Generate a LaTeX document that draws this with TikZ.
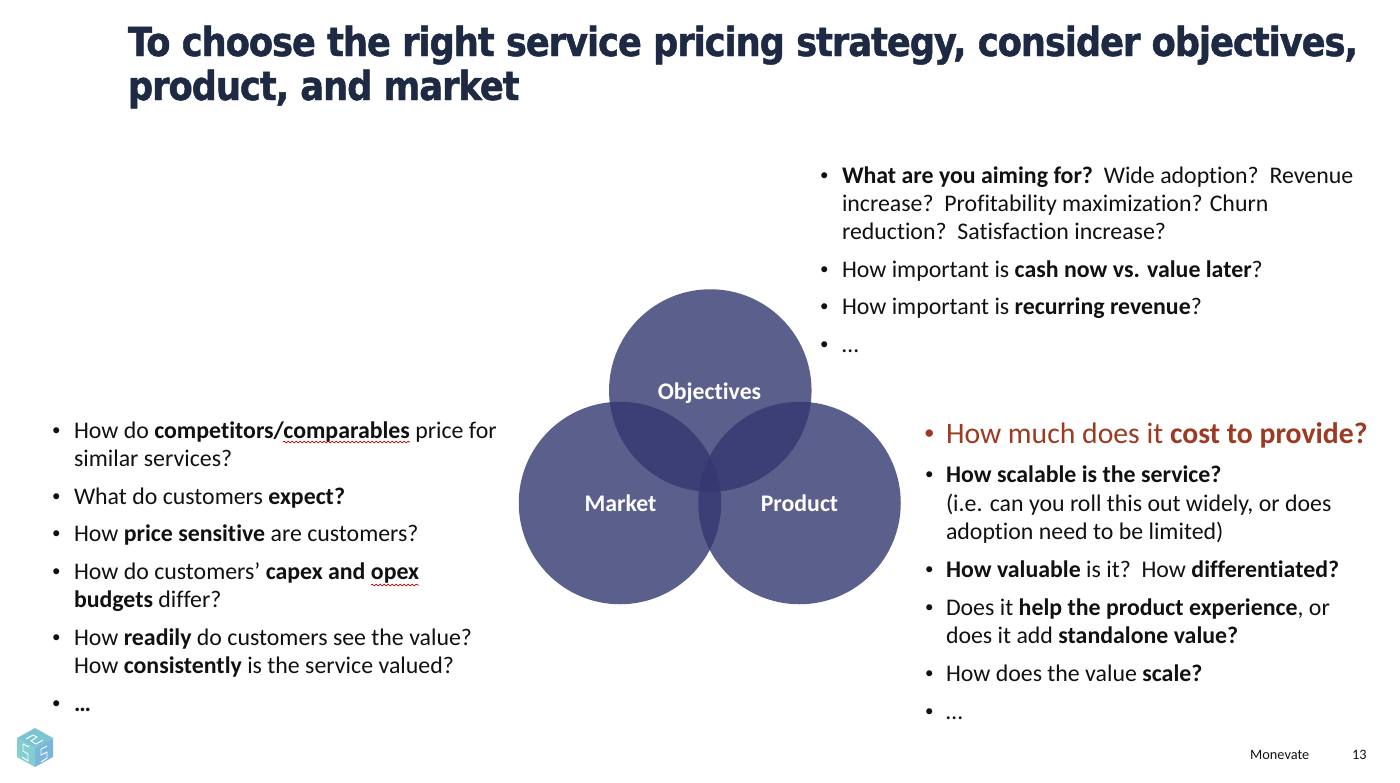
\documentclass[tikz,border=0pt]{standalone}
\usepackage{fontspec}
\setmainfont[Ligatures=NoCommon]{Carlito}
\newfontfamily\titlefont[BoldFeatures={FakeStretch=0.88,FakeBold=1.2,LetterSpace=-2.5}]{DejaVu Sans}
\usetikzlibrary{decorations.pathmorphing}
\definecolor{titleC}{HTML}{1E2A44}
\definecolor{vennC}{HTML}{333870}
\definecolor{redC}{HTML}{9C3A22}
\definecolor{textC}{HTML}{111111}
\definecolor{cubeT}{HTML}{7CC4D0}
\definecolor{cubeL}{HTML}{84CDD0}
\definecolor{cubeR}{HTML}{7AB6DC}
\tikzset{
  x=1pt,y=-1pt,
  tl/.style={anchor=base west,inner sep=0pt,outer sep=0pt,text=textC,font=\fontsize{23.85}{28}\selectfont},
  bl/.style={anchor=base west,inner sep=0pt,outer sep=0pt,text=textC,font=\fontsize{17}{20}\selectfont},
  ttl/.style={anchor=base west,inner sep=0pt,outer sep=0pt,text=titleC,font=\titlefont\bfseries\fontsize{40}{44}\selectfont},
  venn/.style={circle,minimum size=202.5pt,inner sep=0pt,outer sep=0pt,fill=vennC,fill opacity=.8},
  vl/.style={inner sep=0pt,text=white,font=\bfseries\fontsize{23.8}{26}\selectfont},
  squig/.style={draw=red!75!black,line width=.7pt,decorate,decoration={snake,amplitude=.8pt,segment length=4pt}},
  foot/.style={anchor=base west,inner sep=0pt,text=textC,font=\fontsize{14.3}{16}\selectfont},
  cubeline/.style={white,line width=.9pt},
}
\newcommand{\tline}[4]{\node[tl] (#1) at (#2,#3+1) {#4};}
\newcommand{\bul}[3]{\node[bl] (#1) at (#2,#3-2) {•};}
\begin{document}
\begin{tikzpicture}
\useasboundingbox (0,0) rectangle (1400,782);
\fill[white] (0,0) rectangle (1400,782);
% title
\node[ttl] (t1) at (128,56) {To choose the right service pricing strategy, consider objectives,};
\node[ttl] (t2) at (128,100) {product, and market};
% venn
\node[venn] (obj) at (710.3,390.5) {};
\node[venn] (mkt) at (620,503) {};
\node[venn] (prd) at (799.5,503) {};
\node[vl,anchor=base] (objl) at (709.5,399) {Objectives};
\node[vl,anchor=base] (mktl) at (620.5,511) {Market};
\node[vl,anchor=base] (prdl) at (799.5,511) {Product};
% top right
\bul{b1}{820}{182}\tline{a1}{842}{182}{\textbf{What are you aiming for?}\ \ Wide adoption?\ \ Revenue}
\tline{a2}{842}{210}{increase?\ \ Profitability maximization? Churn}
\tline{a3}{842}{238}{reduction?\ \ Satisfaction increase?}
\bul{b2}{820}{276}\tline{a4}{842}{276}{How important is \textbf{cash now vs. value later}?}
\bul{b3}{820}{313}\tline{a5}{842}{313}{How important is \textbf{recurring revenue}?}
\bul{b4}{820}{351}\tline{a6}{842}{351}{…}
% left
\bul{c1}{52}{437}\tline{l1}{74}{437}{How do \textbf{competitors/comparables} price for}
\tline{l2}{74}{465}{similar services?}
\bul{c2}{52}{503}\tline{l3}{74}{503}{What do customers \textbf{expect?}}
\bul{c3}{52}{540}\tline{l4}{74}{540}{How \textbf{price sensitive} are customers?}
\bul{c4}{52}{578}\tline{l5}{74}{578}{How do customers’ \textbf{capex and opex}}
\tline{l6}{74}{606}{\textbf{budgets} differ?}
\bul{c5}{52}{644}\tline{l7}{74}{644}{How \textbf{readily} do customers see the value?}
\tline{l8}{74}{672}{How \textbf{consistently} is the service valued?}
\bul{c6}{52}{710}\tline{l9}{74}{710}{\textbf{…}}
\coordinate (s1a) at (283,442); \coordinate (s1b) at (410,442);
\coordinate (s2a) at (371,585); \coordinate (s2b) at (419,585);
\draw[squig] (s1a) -- (s1b);
\draw[squig] (s2a) -- (s2b);
% right
\node[bl,text=redC,font=\fontsize{21}{24}\selectfont] (d0) at (924,439) {•};
\node[tl,text=redC,font=\fontsize{29.7}{30}\selectfont] (r0) at (946,443) {How much does it \textbf{cost to provide?}};
\bul{d1}{925}{481}\tline{r1}{946}{481}{\textbf{How scalable is the service?}}
\tline{r2}{946}{510}{(i.e. can you roll this out widely, or does}
\tline{r3}{946}{538}{adoption need to be limited)}
\bul{d2}{925}{576}\tline{r4}{946}{576}{\textbf{How valuable} is it?\ \ How \textbf{differentiated?}}
\bul{d3}{925}{614}\tline{r5}{946}{614}{Does it \textbf{help the product experience}, or}
\tline{r6}{946}{642}{does it add \textbf{standalone value?}}
\bul{d4}{925}{680}\tline{r7}{946}{680}{How does the value \textbf{scale?}}
\bul{d5}{925}{718}\tline{r8}{946}{718}{…}
% footer
\node[foot] (f1) at (1250,759) {Monevate};
\node[foot] (f2) at (1352,759) {13};
% logo cube
\fill[cubeT] (35,728) -- (53,738) -- (35,748) -- (17,738) -- cycle;
\fill[cubeR] (53,738) -- (53,757) -- (35,767) -- (35,748) -- cycle;
\fill[cubeL] (17,738) -- (35,748) -- (35,767) -- (17,757) -- cycle;
\draw[cubeline] (26,739) -- (33,735) -- (37,737) -- (31,741) -- (36,744) -- (43,740);
\draw[cubeline] (29,747) -- (23,744) -- (23,751) -- (28,754) -- (28,761) -- (22,757);
\draw[cubeline] (47,746) -- (41,749) -- (41,755) -- (47,752) -- (47,758) -- (41,762);
\end{tikzpicture}
\end{document}
